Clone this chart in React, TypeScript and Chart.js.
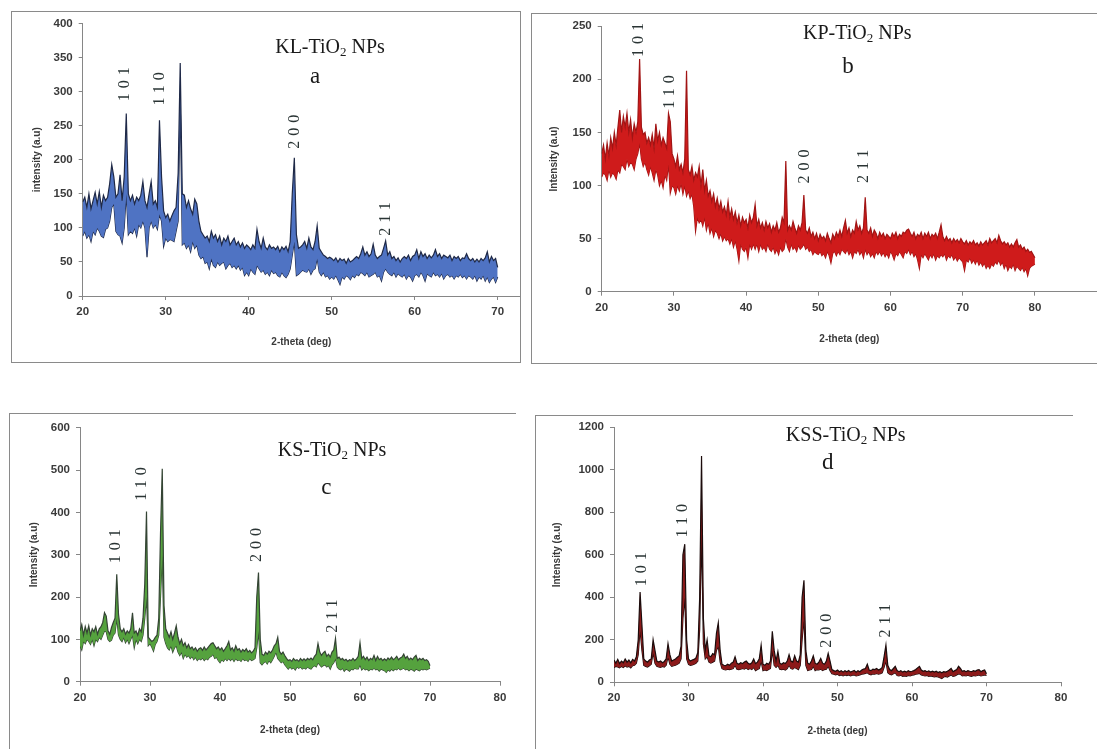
import React, { useEffect, useRef } from "react";
import { Chart, registerables } from "chart.js";

Chart.register(...registerables);

// ---- data: diffraction intensity (a.u.), upper / lower trace envelope, 0.25 deg steps from 20 deg ----
const FIRST_ANGLE = 20;
const ANGLE_STEP = 0.25;
const HKL_LABELS = ["101", "110", "200", "211"];
const X_TICKS_A = [20, 30, 40, 50, 60, 70];
const X_TICKS_BCD = [20, 30, 40, 50, 60, 70, 80];

const klHigh = [
  138, 145, 130, 150, 128, 140, 152, 135, 153, 130, 148, 140, 145, 165, 193, 175, 145, 150, 178, 140,
  175, 268, 150, 140, 148, 135, 145, 140, 148, 168, 140, 130, 150, 168, 135, 140, 130, 258, 175, 125,
  115, 120, 110, 118, 125, 130, 180, 342, 150, 148, 130, 140, 128, 120, 142, 135, 110, 95, 90, 85,
  88, 80, 95, 85, 90, 80, 88, 75, 85, 80, 88, 75, 80, 85, 75, 80, 72, 78, 70, 75,
  72, 68, 75, 70, 98, 80, 70, 85, 72, 68, 75, 70, 72, 68, 73, 65, 72, 68, 73, 65,
  80, 150, 203, 90, 70, 72, 75, 80, 70, 85, 72, 68, 80, 103, 70, 65, 60, 58, 55, 57,
  55, 52, 56, 50, 55, 52, 54, 48, 55, 50, 52, 55, 58, 55, 62, 72, 60, 65, 58, 62,
  76, 60, 55, 58, 60, 70, 81, 60, 65, 55, 58, 52, 56, 50, 55, 58, 55, 60, 52, 58,
  60, 68, 55, 65, 58, 62, 55, 60, 56, 60, 68, 58, 62, 55, 60, 58, 56, 60, 52, 58,
  55, 58, 52, 56, 55, 62, 55, 52, 55, 50, 54, 50, 55, 52, 56, 65, 50, 58, 52, 55,
  42,
];
const klLow = [
  88, 95, 85, 90, 80, 95, 90, 100, 95, 88, 86, 98, 100, 110, 130, 135, 95, 90, 88, 78,
  100, 150, 90, 95, 92, 100, 88, 105, 100, 110, 100, 57, 100, 110, 100, 105, 98, 120, 110, 73,
  85, 80, 83, 82, 80, 95, 110, 290, 75, 78, 70, 75, 65, 80, 70, 75, 60, 55, 58, 48,
  50, 40, 55, 45, 42, 50, 45, 48, 50, 40, 45, 48, 42, 45, 40, 45, 38, 42, 30, 35,
  30, 40, 35, 32, 45, 40, 35, 38, 32, 35, 30, 38, 33, 35, 30, 28, 35, 30, 27, 32,
  40, 60, 80, 30, 32, 35, 38, 36, 35, 40, 32, 38, 40, 55, 35, 30, 35, 28, 30, 25,
  28, 25, 30, 24, 17, 28, 25, 30, 28, 24, 30, 27, 32, 30, 35, 33, 30, 35, 28, 30,
  32, 35, 28, 30, 22, 35, 40, 35, 32, 30, 35, 28, 33, 30, 28, 32, 25, 30, 28, 22,
  30, 32, 28, 35, 30, 22, 33, 30, 28, 35, 30, 32, 28, 33, 25, 30, 32, 28, 30, 25,
  30, 28, 32, 27, 30, 25, 30, 28, 25, 30, 22, 28, 25, 30, 22, 28, 20, 25, 28, 20,
  28,
];

const kpHigh = [
  130, 138, 125, 140, 128, 145, 135, 150, 138, 155, 171, 150, 165, 155, 168, 150, 162, 145, 158, 150,
  160, 219, 155, 148, 150, 140, 145, 138, 148, 135, 158, 142, 150, 138, 145, 140, 135, 168, 160, 130,
  125, 118, 128, 115, 120, 112, 125, 208, 115, 110, 118, 105, 112, 108, 118, 100, 115, 95, 105, 90,
  95, 85, 92, 80, 88, 78, 85, 75, 80, 72, 85, 70, 78, 68, 75, 65, 72, 62, 70, 65,
  68, 60, 72, 65, 70, 82, 62, 68, 60, 65, 58, 66, 60, 64, 56, 62, 58, 65, 56, 60,
  70, 65, 123, 58, 62, 58, 66, 60, 55, 62, 58, 65, 91, 58, 55, 60, 52, 56, 50, 55,
  48, 54, 50, 52, 48, 55, 50, 46, 54, 50, 56, 52, 58, 52, 60, 67, 55, 60, 52, 58,
  55, 66, 58, 62, 55, 60, 89, 58, 55, 60, 52, 58, 55, 50, 56, 52, 55, 50, 54, 52,
  50, 55, 52, 56, 50, 54, 52, 56, 55, 58, 59, 55, 52, 56, 50, 54, 52, 56, 50, 55,
  52, 56, 50, 54, 52, 55, 50, 56, 63, 52, 48, 52, 48, 50, 46, 50, 47, 49, 46, 50,
  47, 45, 48, 44, 47, 45, 48, 44, 46, 43, 47, 44, 46, 48, 44, 50, 46, 48, 50, 46,
  53, 48, 45, 47, 44, 46, 42, 45, 42, 46, 49, 42, 44, 40, 42, 38, 40, 37, 38, 35,
  32,
];
const kpLow = [
  108, 112, 110, 105, 115, 108, 112, 110, 106, 115, 112, 120, 118, 115, 125, 118, 122, 120, 115, 125,
  130, 140, 125, 118, 122, 115, 110, 118, 112, 105, 115, 110, 100, 105, 98, 110, 105, 120, 93, 100,
  98, 92, 100, 95, 102, 92, 100, 90, 95, 88, 92, 80, 57, 70, 65, 68, 62, 70, 58, 65,
  55, 60, 52, 58, 55, 50, 55, 48, 52, 48, 50, 45, 50, 42, 48, 40, 29, 45, 40, 38,
  42, 32, 45, 40, 45, 40, 45, 38, 45, 40, 42, 38, 45, 40, 38, 42, 36, 40, 35, 42,
  38, 40, 50, 42, 38, 45, 40, 42, 38, 44, 40, 42, 45, 40, 42, 38, 40, 35, 38, 36,
  35, 38, 34, 36, 32, 38, 34, 27, 36, 38, 34, 38, 35, 40, 38, 36, 40, 35, 38, 32,
  38, 36, 40, 35, 38, 32, 40, 35, 38, 33, 36, 32, 38, 35, 38, 34, 37, 33, 36, 32,
  38, 35, 30, 36, 34, 38, 35, 32, 38, 36, 40, 35, 38, 33, 36, 30, 22, 35, 32, 36,
  33, 30, 35, 32, 36, 30, 34, 32, 35, 33, 36, 30, 34, 32, 35, 30, 33, 29, 32, 30,
  28, 20, 30, 28, 32, 27, 30, 26, 30, 25, 28, 24, 27, 22, 25, 22, 26, 24, 28, 26,
  30, 25, 28, 22, 26, 20, 24, 22, 26, 20, 24, 22, 20, 23, 19, 22, 15, 22, 24, 25,
  26,
];

const ksHigh = [
  120, 135, 110, 130, 115, 132, 110, 125, 118, 130, 112, 125, 130, 140, 163, 155, 120, 112, 128, 140,
  150, 254, 160, 125, 118, 125, 112, 120, 115, 125, 163, 115, 120, 110, 125, 118, 150, 230, 402, 105,
  100, 95, 98, 105, 110, 150, 350, 503, 180, 125, 115, 105, 118, 100, 115, 132, 105, 90, 100, 85,
  92, 80, 88, 78, 82, 75, 80, 72, 78, 80, 74, 82, 75, 80, 85, 90, 92, 85, 78, 82,
  75, 80, 72, 78, 85, 95, 75, 80, 72, 85, 75, 78, 70, 76, 72, 78, 70, 74, 68, 72,
  80, 200, 258, 100, 65, 62, 70, 65, 72, 68, 75, 85, 90, 105, 72, 65, 70, 62, 55, 50,
  52, 48, 55, 50, 52, 48, 55, 50, 54, 50, 55, 52, 56, 52, 60, 65, 90, 70, 62, 68,
  72, 60, 65, 58, 70, 75, 102, 55, 58, 52, 55, 50, 53, 48, 52, 50, 55, 50, 54, 60,
  92, 55, 60, 52, 58, 50, 55, 52, 62, 50, 60, 52, 55, 50, 54, 50, 56, 52, 58, 52,
  55, 60, 52, 56, 58, 65, 55, 60, 52, 56, 52, 58, 62, 50, 55, 52, 55, 50, 52, 48,
  38,
];
const ksLow = [
  85, 75, 95, 90, 100, 95, 88, 100, 85, 100, 95, 105, 100, 110, 120, 118, 100, 95, 98, 110,
  115, 150, 110, 100, 95, 105, 92, 100, 90, 100, 110, 80, 100, 90, 100, 95, 110, 150, 200, 85,
  90, 82, 72, 88, 95, 110, 200, 300, 105, 90, 80, 75, 85, 70, 80, 85, 70, 62, 70, 55,
  65, 58, 62, 55, 60, 52, 58, 50, 55, 52, 56, 50, 55, 52, 58, 60, 65, 55, 58, 50,
  45, 52, 48, 55, 50, 55, 50, 55, 48, 55, 50, 52, 48, 55, 50, 52, 48, 55, 50, 52,
  55, 80, 120, 45, 40, 45, 48, 42, 50, 45, 52, 60, 70, 55, 50, 45, 48, 40, 35, 30,
  35, 30, 33, 28, 35, 32, 35, 30, 33, 30, 35, 32, 30, 35, 38, 35, 45, 40, 35, 38,
  40, 35, 38, 30, 40, 45, 55, 35, 30, 28, 32, 25, 30, 28, 25, 30, 28, 32, 30, 30,
  40, 28, 32, 28, 30, 26, 30, 28, 32, 28, 30, 25, 30, 28, 26, 22, 28, 25, 30, 26,
  30, 28, 32, 28, 30, 32, 28, 30, 26, 30, 28, 25, 30, 28, 26, 30, 28, 30, 28, 30,
  32,
];

const kssHigh = [
  105, 90, 108, 88, 100, 92, 110, 95, 105, 92, 108, 100, 120, 200, 425, 270, 110, 100, 95, 105,
  110, 200, 150, 100, 95, 100, 92, 98, 110, 182, 130, 100, 105, 110, 118, 125, 170, 600, 650, 200,
  110, 100, 105, 108, 115, 140, 400, 1065, 300, 150, 200, 125, 120, 135, 130, 230, 280, 150, 85, 80,
  78, 85, 80, 90, 95, 120, 90, 85, 92, 88, 95, 100, 90, 85, 92, 110, 88, 95, 110, 175,
  85, 80, 90, 85, 100, 240, 150, 100, 145, 90, 85, 92, 88, 100, 130, 100, 95, 125, 100, 95,
  130, 400, 480, 150, 90, 85, 100, 125, 90, 85, 95, 112, 90, 85, 100, 136, 100, 60, 55, 52,
  58, 50, 55, 48, 55, 50, 56, 48, 52, 56, 48, 55, 50, 58, 62, 65, 85, 58, 55, 62,
  60, 65, 58, 62, 70, 120, 175, 80, 60, 55, 65, 75, 55, 50, 55, 48, 52, 48, 55, 50,
  52, 55, 60, 68, 75, 58, 52, 55, 50, 54, 48, 52, 48, 52, 46, 50, 45, 50, 48, 52,
  58, 65, 50, 55, 60, 75, 65, 52, 55, 50, 55, 52, 50, 55, 52, 58, 60, 50, 55, 58,
  40,
];
const kssLow = [
  70, 75, 72, 68, 75, 70, 78, 72, 75, 68, 78, 80, 90, 130, 250, 150, 80, 75, 72, 78,
  85, 140, 90, 75, 72, 70, 75, 72, 80, 120, 85, 75, 78, 80, 85, 90, 110, 300, 400, 110,
  85, 80, 82, 85, 90, 100, 250, 700, 180, 110, 120, 95, 90, 95, 100, 150, 170, 95, 65, 60,
  58, 62, 60, 62, 65, 80, 62, 60, 62, 65, 62, 68, 60, 65, 60, 70, 55, 60, 65, 100,
  55, 58, 55, 60, 65, 150, 80, 70, 80, 62, 60, 62, 58, 65, 80, 65, 62, 70, 65, 60,
  80, 200, 300, 80, 55, 58, 60, 75, 55, 60, 58, 62, 55, 60, 62, 75, 55, 40, 38, 35,
  38, 32, 35, 30, 35, 32, 35, 30, 33, 35, 30, 32, 35, 38, 40, 42, 45, 38, 35, 40,
  38, 42, 38, 40, 45, 70, 100, 45, 38, 35, 40, 45, 32, 30, 33, 28, 30, 28, 32, 30,
  33, 35, 38, 40, 42, 35, 32, 30, 32, 28, 30, 28, 25, 28, 25, 22, 18, 25, 28, 25,
  30, 35, 28, 30, 35, 40, 38, 30, 32, 30, 33, 30, 28, 32, 30, 32, 35, 30, 32, 35,
  32,
];

// ---- panel layout / style ----
type Box = { left: number; top: number; width: number; height: number };
type PanelDef = {
  sample: string;
  letter: string;
  high: number[];
  low: number[];
  xMax: number;
  xTicks: number[];
  yMax: number;
  yStep: number;
  yTitle: string;
  fill: string;
  edge: string;
  frame: Box & { borders: [number, number, number, number] };
  canvas: Box;
  axisW: number;
  axisH: number;
  padTop: number;
  padRight: number;
  yTitlePad: number;
  xTitlePad: number;
  titleAt: [number, number];
  letterAt: [number, number];
  hklAt: [number, number][];
};

const PANELS: PanelDef[] = [
  {
    sample: "KL", letter: "a", high: klHigh, low: klLow,
    xMax: 72.69, xTicks: X_TICKS_A, yMax: 400, yStep: 50, yTitle: "intensity (a.u)",
    fill: "#4f73c3", edge: "#1f2947",
    frame: { left: 11, top: 11, width: 510, height: 352, borders: [1, 1, 1, 1] },
    canvas: { left: 12, top: 12, width: 508, height: 349 },
    axisW: 70.7, axisH: 65, padTop: 11.5, padRight: 0, yTitlePad: 19, xTitlePad: 13,
    titleAt: [49.8, 366], letterAt: [48.0, 322],
    hklAt: [[25.1, 311], [29.3, 304], [45.5, 241], [56.5, 113]],
  },
  {
    sample: "KP", letter: "b", high: kpHigh, low: kpLow,
    xMax: 88.6, xTicks: X_TICKS_BCD, yMax: 250, yStep: 50, yTitle: "Intensity (a.u)",
    fill: "#cf1b1b", edge: "#a11414",
    frame: { left: 531, top: 13, width: 600, height: 351, borders: [1, 0, 1, 1] },
    canvas: { left: 532, top: 14, width: 565, height: 349 },
    axisW: 69.7, axisH: 71.3, padTop: 12.2, padRight: 0, yTitlePad: 16, xTitlePad: 18,
    titleAt: [55.4, 243.6], letterAt: [54.1, 212],
    hklAt: [[25.2, 237], [29.5, 188], [48.1, 118], [56.3, 118]],
  },
  {
    sample: "KS", letter: "c", high: ksHigh, low: ksLow,
    xMax: 80, xTicks: X_TICKS_BCD, yMax: 600, yStep: 100, yTitle: "Intensity (a.u)",
    fill: "#55a23e", edge: "#344434",
    frame: { left: 9, top: 413, width: 507, height: 400, borders: [1, 0, 0, 1] },
    canvas: { left: 10, top: 414, width: 505, height: 335 },
    axisW: 70, axisH: 67.3, padTop: 13.7, padRight: 15, yTitlePad: 18, xTitlePad: 13,
    titleAt: [56.0, 547], letterAt: [55.2, 457],
    hklAt: [[25.1, 320], [28.8, 467], [45.2, 323], [56.1, 155]],
  },
  {
    sample: "KSS", letter: "d", high: kssHigh, low: kssLow,
    xMax: 80, xTicks: X_TICKS_BCD, yMax: 1200, yStep: 200, yTitle: "Intensity (a.u)",
    fill: "#8c1a1a", edge: "#1c0c0c",
    frame: { left: 535, top: 415, width: 538, height: 400, borders: [1, 0, 0, 1] },
    canvas: { left: 536, top: 416, width: 537, height: 333 },
    axisW: 78, axisH: 66.7, padTop: 11.3, padRight: 12, yTitlePad: 15, xTitlePad: 12,
    titleAt: [51.1, 1164], letterAt: [48.7, 1032],
    hklAt: [[23.76, 532], [29.2, 760], [48.5, 243], [56.5, 290]],
  },
];

const AXIS_COLOR = "#868686";
const TEXT_COLOR = "#3a3a3a";
const SANS = '"Liberation Sans", Arial, sans-serif';
const SERIF = '"Liberation Serif", "Times New Roman", serif';

function makeLabelPlugin(p: PanelDef) {
  return {
    id: "xrdLabels" + p.letter,
    afterDatasetsDraw(chart: any) {
      const { ctx } = chart;
      const xs = chart.scales.x;
      const ys = chart.scales.y;
      ctx.save();
      ctx.fillStyle = "#1a1a1a";
      // sample title with subscript 2
      const tx = xs.getPixelForValue(p.titleAt[0]);
      const ty = ys.getPixelForValue(p.titleAt[1]);
      const part1 = p.sample + "-TiO";
      const part3 = " NPs";
      ctx.font = "20px " + SERIF;
      const w1 = ctx.measureText(part1).width;
      const w3 = ctx.measureText(part3).width;
      ctx.font = "13px " + SERIF;
      const w2 = ctx.measureText("2").width;
      let cx = tx - (w1 + w2 + w3) / 2;
      const base = ty + 6;
      ctx.textAlign = "left";
      ctx.textBaseline = "alphabetic";
      ctx.font = "20px " + SERIF;
      ctx.fillText(part1, cx, base);
      cx += w1;
      ctx.font = "13px " + SERIF;
      ctx.fillText("2", cx, base + 3);
      cx += w2;
      ctx.font = "20px " + SERIF;
      ctx.fillText(part3, cx, base);
      // panel letter
      ctx.font = "23px " + SERIF;
      ctx.textAlign = "center";
      ctx.textBaseline = "middle";
      ctx.fillText(p.letter, xs.getPixelForValue(p.letterAt[0]), ys.getPixelForValue(p.letterAt[1]));
      // hkl labels (rotated)
      ctx.fillStyle = "#2a3434";
      ctx.font = "16px " + SERIF;
      (ctx as any).letterSpacing = "5px";
      p.hklAt.forEach((pos, i) => {
        ctx.save();
        ctx.translate(xs.getPixelForValue(pos[0]), ys.getPixelForValue(pos[1]));
        ctx.rotate(-Math.PI / 2);
        ctx.fillText(HKL_LABELS[i], 2.5, 0);
        ctx.restore();
      });
      ctx.restore();
    },
  };
}

function XrdPanel({ p }: { p: PanelDef }) {
  const ref = useRef<HTMLCanvasElement | null>(null);
  useEffect(() => {
    const angles = p.high.map((_, i) => FIRST_ANGLE + i * ANGLE_STEP);
    const highPts = p.high.map((v, i) => ({ x: angles[i], y: v }));
    const lowPts = p.low.map((v, i) => ({ x: angles[i], y: v }));
    const tickFont = { family: SANS, size: 11.5, weight: "bold" as const };
    const titleFont = { family: SANS, size: 10, weight: "bold" as const };
    const chart = new Chart(ref.current as HTMLCanvasElement, {
      type: "line",
      data: {
        datasets: [
          {
            data: highPts,
            borderColor: p.edge,
            borderWidth: 1.2,
            backgroundColor: p.fill,
            fill: "+1",
            pointRadius: 0,
            tension: 0,
          },
          {
            data: lowPts,
            borderColor: p.edge,
            borderWidth: 1.2,
            backgroundColor: p.fill,
            fill: false,
            pointRadius: 0,
            tension: 0,
          },
        ],
      },
      options: {
        animation: false,
        responsive: false,
        maintainAspectRatio: false,
        devicePixelRatio: 1,
        parsing: false as any,
        normalized: true,
        layout: { padding: { left: 0, top: p.padTop, right: p.padRight, bottom: 0 } },
        plugins: { legend: { display: false }, tooltip: { enabled: false } },
        scales: {
          x: {
            type: "linear",
            min: FIRST_ANGLE,
            max: p.xMax,
            afterBuildTicks: (s: any) => {
              s.ticks = p.xTicks.map((v) => ({ value: v }));
            },
            afterFit: (s: any) => {
              s.height = p.axisH;
              s.paddingLeft = 0;
              s.paddingRight = 0;
            },
            grid: { drawOnChartArea: false, drawTicks: true, tickLength: 4, color: AXIS_COLOR },
            border: { color: AXIS_COLOR, width: 1 },
            ticks: {
              color: TEXT_COLOR, font: tickFont, padding: 5, maxRotation: 0, autoSkip: false,
              callback: (v: any) => String(v),
            },
            title: {
              display: true,
              text: "2-theta (deg)",
              color: TEXT_COLOR,
              font: titleFont,
              padding: { top: 0, bottom: p.xTitlePad },
            },
          },
          y: {
            type: "linear",
            min: 0,
            max: p.yMax,
            afterFit: (s: any) => {
              s.width = p.axisW;
              s.paddingTop = 0;
              s.paddingBottom = 0;
            },
            grid: { drawOnChartArea: false, drawTicks: true, tickLength: 4, color: AXIS_COLOR },
            border: { color: AXIS_COLOR, width: 1 },
            ticks: {
              stepSize: p.yStep, color: TEXT_COLOR, font: tickFont, padding: 6,
              callback: (v: any) => String(v),
            },
            title: {
              display: true,
              text: p.yTitle,
              color: TEXT_COLOR,
              font: titleFont,
              padding: { top: p.yTitlePad, bottom: 0 },
            },
          },
        },
      },
      plugins: [makeLabelPlugin(p)],
    } as any);
    return () => chart.destroy();
  }, [p]);

  const f = p.frame;
  return (
    <>
      <div
        style={{
          position: "absolute",
          left: f.left,
          top: f.top,
          width: f.width,
          height: f.height,
          boxSizing: "border-box",
          borderStyle: "solid",
          borderColor: "#8a8a8a",
          borderTopWidth: f.borders[0],
          borderRightWidth: f.borders[1],
          borderBottomWidth: f.borders[2],
          borderLeftWidth: f.borders[3],
        }}
      />
      <canvas
        ref={ref}
        width={p.canvas.width}
        height={p.canvas.height}
        style={{
          position: "absolute",
          left: p.canvas.left,
          top: p.canvas.top,
          width: p.canvas.width,
          height: p.canvas.height,
        }}
      />
    </>
  );
}

export default function App() {
  return (
    <div
      style={{
        position: "absolute",
        left: 0,
        top: 0,
        width: 1097,
        height: 749,
        overflow: "hidden",
        background: "#ffffff",
      }}
    >
      {PANELS.map((p) => (
        <XrdPanel key={p.letter} p={p} />
      ))}
    </div>
  );
}
